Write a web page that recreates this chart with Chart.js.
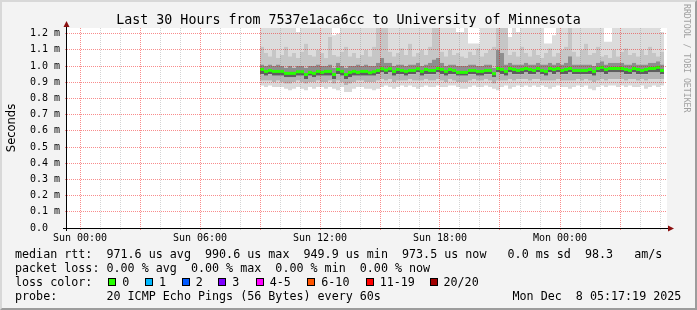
<!DOCTYPE html>
<html>
<head>
<meta charset="utf-8">
<title>Last 30 Hours</title>
<script src="https://cdn.jsdelivr.net/npm/chart.js@4.4.1/dist/chart.umd.min.js"></script>
<style>
  html, body { margin: 0; padding: 0; }
  body { width: 697px; height: 310px; position: relative; overflow: hidden; background: #f3f3f3; }
  #frame { position: absolute; left: 0; top: 0; width: 697px; height: 310px; box-sizing: border-box;
           border-style: solid; border-width: 2px; border-color: #d8d8d8 #9c9c9c #9c9c9c #d8d8d8; pointer-events: none; }
  #chart { position: absolute; left: 0; top: 0; }
  .txt { position: absolute; font-family: "DejaVu Sans Mono", monospace; white-space: pre; color: #000; }
  .leg { font-size: 11.7px; line-height: 14px; height: 14px; }
  .box { position: absolute; width: 8px; height: 8px; box-sizing: border-box; border: 1px solid #000; top: 278px; }
</style>
</head>
<body>
<canvas id="chart" width="697" height="310"></canvas>
<div id="title" class="txt" style="left:0;width:697px;text-align:center;top:12px;font-size:13.3px;line-height:16px;">Last 30 Hours from 7537e1aca6cc to University of Minnesota</div>
<div class="txt" style="font-family:'DejaVu Sans',sans-serif;font-size:11.5px;line-height:14px;width:80px;height:14px;text-align:center;left:-29px;top:120.5px;transform:rotate(-90deg);">Seconds</div>
<div class="txt" style="font-size:8.2px;line-height:9px;left:682px;top:4px;color:#a0a0a0;writing-mode:vertical-rl;">RRDTOOL / TOBI OETIKER</div>
<div id="legend"></div>
<div id="frame"></div>
<script>
// time axis, in hours from Sun 00:00
var xMinHour = -0.65;
var xMaxHour = 29.35;
var dataStartHour = 9.0;   // first smokeping bin (Sun 09:00)
var binHours = 0.2;        // 12 minute bins
var gridHours = [0,1,2,3,4,5,6,7,8,9,10,11,12,13,14,15,16,17,18,19,20,21,22,23,24,25,26,27,28,29];
var xTickHours = [0, 6, 12, 18, 24];
var xTickLabels = ['Sun 00:00', 'Sun 06:00', 'Sun 12:00', 'Sun 18:00', 'Mon 00:00'];

// value axis, milliseconds
var yMax = 1.235;
var yTickValues = [0, 0.1, 0.2, 0.3, 0.4, 0.5, 0.6, 0.7, 0.8, 0.9, 1.0, 1.1, 1.2];
var yTickLabels = ['0.0', '0.1 m', '0.2 m', '0.3 m', '0.4 m', '0.5 m', '0.6 m', '0.7 m', '0.8 m', '0.9 m', '1.0 m', '1.1 m', '1.2 m'];

// median rtt per bin (ms)
var medianRtt = [
  0.979,0.967,0.973,0.967,0.967,0.967,0.955,0.955,0.955,0.965,0.965,0.948,0.961,0.955,0.967,0.961,0.967,0.967,0.948,0.979,0.967,0.948,0.961,0.967,0.961,
  0.967,0.967,0.959,0.965,0.973,0.983,0.975,0.983,0.967,0.979,0.973,0.967,0.973,0.973,0.983,0.967,0.979,0.973,0.973,0.985,0.979,0.967,0.979,0.973,0.961,
  0.961,0.961,0.973,0.973,0.967,0.967,0.973,0.973,0.953,0.985,0.979,0.967,0.985,0.979,0.973,0.979,0.985,0.979,0.973,0.985,0.973,0.967,0.985,0.979,0.985,
  0.973,0.979,0.985,0.973,0.973,0.973,0.973,0.979,0.967,0.985,0.992,0.979,0.985,0.985,0.985,0.985,0.979,0.973,0.985,0.979,0.973,0.979,0.985,0.985,0.992,0.973
];

// smoke edges per bin (ms), bottom to top
var smokeMin = [
  .88,.87,.88,.87,.87,.87,.86,.85,.86,.87,.86,.85,.87,.86,.87,.87,.86,.87,.86,.85,.87,.84,.84,.86,.87,
  .87,.86,.86,.85,.86,.87,.88,.87,.86,.87,.88,.87,.88,.87,.86,.87,.88,.87,.87,.88,.87,.87,.88,.88,.87,
  .86,.86,.87,.88,.87,.87,.88,.87,.86,.85,.87,.88,.86,.87,.88,.87,.88,.87,.88,.87,.88,.87,.86,.87,.88,
  .87,.87,.86,.87,.88,.87,.88,.86,.85,.87,.88,.87,.88,.88,.87,.88,.87,.88,.87,.87,.88,.86,.87,.88,.87,.88
];
var smokeLo2 = [
  .91,.91,.91,.90,.91,.90,.89,.89,.90,.91,.90,.89,.90,.90,.91,.90,.90,.91,.89,.91,.90,.88,.89,.90,.91,
  .91,.90,.90,.90,.91,.92,.91,.92,.90,.91,.91,.91,.92,.91,.91,.91,.92,.91,.91,.92,.91,.90,.92,.91,.90,
  .90,.90,.91,.92,.91,.91,.92,.91,.89,.91,.91,.91,.92,.91,.92,.92,.92,.91,.92,.92,.91,.91,.91,.91,.92,
  .91,.91,.91,.91,.92,.91,.92,.91,.90,.91,.92,.91,.92,.92,.92,.92,.91,.92,.92,.91,.92,.91,.92,.92,.92,.92
];
var smokeLo1 = [
  .95,.94,.95,.94,.94,.94,.93,.93,.93,.94,.94,.92,.94,.93,.94,.94,.94,.94,.92,.95,.94,.92,.93,.94,.94,
  .94,.94,.94,.94,.95,.96,.95,.96,.94,.95,.95,.94,.95,.95,.96,.94,.95,.95,.95,.96,.95,.94,.95,.95,.94,
  .94,.94,.95,.95,.94,.94,.95,.95,.93,.96,.95,.94,.96,.95,.95,.95,.96,.95,.95,.96,.95,.94,.96,.95,.96,
  .95,.95,.96,.95,.95,.95,.95,.95,.94,.96,.96,.95,.96,.96,.96,.96,.95,.95,.96,.95,.95,.95,.96,.96,.96,.95
];
var smokeHi1 = [
  1.01,1.00,1.01,1.00,1.01,1.00,.99,1.00,.99,1.00,1.00,.99,1.00,1.00,1.01,1.00,1.00,1.01,.99,1.02,1.00,.99,1.00,1.00,1.01,
  1.00,1.01,1.00,1.00,1.02,1.05,1.02,1.02,1.00,1.01,1.01,1.00,1.01,1.01,1.02,1.00,1.01,1.02,1.04,1.05,1.02,1.00,1.01,1.01,1.00,
  1.00,1.00,1.01,1.01,1.00,1.00,1.01,1.01,.99,1.10,1.08,1.01,1.02,1.01,1.01,1.01,1.02,1.01,1.01,1.02,1.01,1.01,1.02,1.01,1.02,
  1.01,1.02,1.06,1.01,1.01,1.01,1.01,1.01,1.00,1.02,1.03,1.01,1.02,1.02,1.02,1.02,1.01,1.01,1.02,1.01,1.01,1.01,1.02,1.02,1.03,1.01
];
var smokeHi2 = [
  1.12,1.08,1.06,1.10,1.05,1.07,1.12,1.06,1.08,1.05,1.09,1.14,1.07,1.06,1.10,1.08,1.05,1.18,1.07,1.06,1.09,1.12,1.06,1.08,1.05,
  1.07,1.10,1.06,1.12,1.25,1.25,1.25,1.09,1.06,1.08,1.11,1.07,1.14,1.06,1.08,1.10,1.07,1.12,1.25,1.25,1.09,1.06,1.10,1.07,1.08,
  1.06,1.05,1.09,1.07,1.11,1.06,1.08,1.10,1.12,1.25,1.25,1.25,1.07,1.09,1.06,1.12,1.08,1.06,1.10,1.07,1.05,1.08,1.11,1.06,1.08,
  1.10,1.12,1.25,1.09,1.06,1.10,1.14,1.07,1.08,1.12,1.06,1.07,1.05,1.10,1.06,1.09,1.11,1.07,1.08,1.06,1.10,1.07,1.12,1.08,1.06,1.09
];
var smokeMax = [
  1.25,1.25,1.25,1.25,1.25,1.25,1.25,1.25,1.25,1.21,1.25,1.25,1.25,1.25,1.25,1.25,1.25,1.25,1.19,1.20,1.25,1.25,1.25,1.25,1.25,
  1.25,1.25,1.25,1.25,1.25,1.25,1.25,1.25,1.25,1.25,1.25,1.25,1.25,1.25,1.25,1.25,1.25,1.25,1.25,1.25,1.25,1.25,1.25,1.25,1.21,
  1.21,1.25,1.14,1.14,1.14,1.25,1.25,1.25,1.25,1.25,1.25,1.25,1.18,1.25,1.21,1.25,1.25,1.25,1.25,1.25,1.25,1.14,1.14,1.19,1.25,
  1.25,1.25,1.25,1.25,1.25,1.25,1.25,1.25,1.25,1.25,1.25,1.15,1.15,1.25,1.25,1.25,1.25,1.25,1.25,1.25,1.25,1.25,1.25,1.25,1.25,1.21
];

// legend
var rttStats = ['971.6 us avg', '990.6 us max', '949.9 us min', '973.5 us now', ' 0.0 ms sd', '98.3', ' am/s'];
var lossStats = ['0.00 % avg', '0.00 % max', '0.00 % min', '0.00 % now'];
var lossLabels = ['0', '1', '2', '3', '4-5', '6-10', '11-19', '20/20'];
var lossColors = ['#26ff00', '#00b8ff', '#0059ff', '#7e00ff', '#ff00ff', '#ff5500', '#ff0000', '#a10000'];
var probeText = '20 ICMP Echo Pings (56 Bytes) every 60s';
var stampText = 'Mon Dec  8 05:17:19 2025';

var RED_GRID = 'rgba(240,0,0,0.45)';
var GRAY_GRID = 'rgba(120,120,120,0.32)';
var bandColors = ['#d9d9d9', '#b4b4b4', '#5e5e5e', '#8e8e8e', '#c6c6c6', '#dcdcdc'];

function toPoints(arr) {
    var pts = [];
    for (var i = 0; i < arr.length; i++) {
        pts.push({x: dataStartHour + i * binHours, y: arr[i]});
    }
    // close the last bin
    pts.push({x: dataStartHour + arr.length * binHours, y: arr[arr.length - 1]});
    return pts;
}

var smokeSeries = [smokeMin, smokeLo2, smokeLo1, medianRtt, smokeHi1, smokeHi2, smokeMax];
var datasets = [];
for (var s = 0; s < smokeSeries.length; s++) {
    datasets.push({
        data: toPoints(smokeSeries[s]),
        stepped: true,
        borderWidth: 0,
        borderColor: 'rgba(0,0,0,0)',
        pointRadius: 0,
        fill: s === 0 ? false : '-1',
        backgroundColor: s === 0 ? 'rgba(0,0,0,0)' : bandColors[s - 1],
        order: 2
    });
}
var medianPts = [];
for (var i = 0; i < medianRtt.length; i++) {
    medianPts.push({x: dataStartHour + (i + 0.5) * binHours, y: medianRtt[i]});
}
datasets.push({
    data: medianPts,
    showLine: false,
    pointStyle: 'line',
    pointRadius: 2,
    pointBorderWidth: 3,
    pointBorderColor: lossColors[0],
    pointBackgroundColor: lossColors[0],
    order: 0
});

var rrdFrame = {
    id: 'rrdFrame',
    beforeDraw: function (chart) {
        var ctx = chart.ctx, a = chart.chartArea;
        ctx.save();
        ctx.fillStyle = '#ffffff';
        ctx.fillRect(a.left, a.top, a.right - a.left, a.bottom - a.top);
        ctx.restore();
    },
    afterDraw: function (chart) {
        var ctx = chart.ctx, a = chart.chartArea;
        ctx.save();
        ctx.strokeStyle = '#000';
        ctx.lineWidth = 1;
        ctx.beginPath();
        ctx.moveTo(a.left - 4, a.bottom + 0.5);
        ctx.lineTo(a.right + 2, a.bottom + 0.5);
        ctx.moveTo(a.left - 0.5, a.bottom + 3);
        ctx.lineTo(a.left - 0.5, a.top - 2);
        ctx.stroke();
        ctx.fillStyle = '#8b1010';
        ctx.beginPath();
        ctx.moveTo(a.left - 0.5, a.top - 7);
        ctx.lineTo(a.left - 3.5, a.top - 1);
        ctx.lineTo(a.left + 2.5, a.top - 1);
        ctx.closePath();
        ctx.fill();
        ctx.beginPath();
        ctx.moveTo(a.right + 7, a.bottom + 0.5);
        ctx.lineTo(a.right + 1, a.bottom - 2.5);
        ctx.lineTo(a.right + 1, a.bottom + 3.5);
        ctx.closePath();
        ctx.fill();
        ctx.restore();
    }
};

var tickFont = {family: "'DejaVu Sans Mono'", size: 10};

new Chart(document.getElementById('chart'), {
    type: 'line',
    data: {datasets: datasets},
    options: {
        responsive: false,
        devicePixelRatio: 1,
        animation: false,
        events: [],
        layout: {padding: {left: 30, top: 28, right: 30, bottom: 62}},
        plugins: {legend: {display: false}, tooltip: {enabled: false}},
        scales: {
            x: {
                type: 'linear',
                min: xMinHour,
                max: xMaxHour,
                afterBuildTicks: function (sc) { sc.ticks = gridHours.map(function (h) { return {value: h}; }); },
                afterFit: function (sc) { sc.height = 20; },
                grid: {
                    color: function (c) { return (c.tick && c.tick.value % 3 === 0) ? RED_GRID : GRAY_GRID; },
                    tickLength: 2,
                    tickBorderDash: [],
                    z: 1
                },
                border: {display: false, dash: [1, 1]},
                ticks: {
                    autoSkip: false,
                    maxRotation: 0,
                    padding: 2,
                    color: '#000',
                    font: tickFont,
                    callback: function (v) {
                        var k = xTickHours.indexOf(v);
                        return k < 0 ? '' : xTickLabels[k];
                    }
                }
            },
            y: {
                type: 'linear',
                min: 0,
                max: yMax,
                afterBuildTicks: function (sc) { sc.ticks = yTickValues.map(function (v) { return {value: v}; }); },
                afterFit: function (sc) { sc.width = 37; },
                grid: {color: RED_GRID, tickLength: 2, tickBorderDash: [], z: 1},
                border: {display: false, dash: [1, 1]},
                ticks: {
                    crossAlign: 'far',
                    color: '#000',
                    font: tickFont,
                    callback: function (v, i) { return yTickLabels[i]; }
                }
            }
        }
    },
    plugins: [rrdFrame]
});

// legend rows under the graph
var legendEl = document.getElementById('legend');
function addText(text, left, top) {
    var d = document.createElement('div');
    d.className = 'txt leg';
    d.style.left = left + 'px';
    d.style.top = top + 'px';
    d.textContent = text;
    legendEl.appendChild(d);
}
addText('median rtt:  ' + rttStats.join('  '), 15, 247.2);
addText('packet loss: ' + lossStats.join('  '), 15, 261.2);
addText('loss color:', 15, 275.2);
addText('probe:       ' + probeText, 15, 289.2);
addText(stampText, 512.5, 289.2);

var boxLeft = [108.3, 145, 181.7, 218.3, 255.7, 307.3, 365.7, 429.5];
for (var b = 0; b < lossLabels.length; b++) {
    var box = document.createElement('div');
    box.className = 'box';
    box.style.left = boxLeft[b] + 'px';
    box.style.background = lossColors[b];
    legendEl.appendChild(box);
    addText(lossLabels[b], boxLeft[b] + 14, 275.2);
}
</script>
</body>
</html>
